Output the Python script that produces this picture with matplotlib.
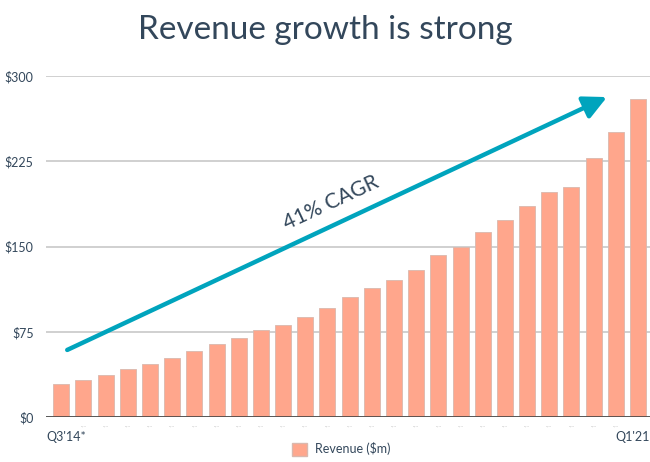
import matplotlib.pyplot as plt
from matplotlib.patches import Patch

plt.rcParams['font.family'] = ['Lato', 'DejaVu Sans']

# quarterly revenue, $m (Q3'14 .. Q1'21)
quarters = ["Q3'14*", "Q4'14",
            "Q1'15", "Q2'15", "Q3'15", "Q4'15",
            "Q1'16", "Q2'16", "Q3'16", "Q4'16",
            "Q1'17", "Q2'17", "Q3'17", "Q4'17",
            "Q1'18", "Q2'18", "Q3'18", "Q4'18",
            "Q1'19", "Q2'19", "Q3'19", "Q4'19",
            "Q1'20", "Q2'20", "Q3'20", "Q4'20",
            "Q1'21"]
revenue = [29, 32.5, 37, 42, 46.5, 52, 58, 64, 69.5, 76.5, 81, 88, 96,
           105.5, 113.5, 120.5, 129, 142.5, 150, 163, 173, 185.5, 198,
           202, 228, 250.5, 280]
yticks = [0, 75, 150, 225, 300]

dark = '#33475b'
bar_col = '#ffa68c'

fig = plt.figure(figsize=(6.5, 4.62), dpi=100)
ax = fig.add_axes([0.071, 0.0974, 0.929, 0.738])

x = list(range(len(revenue)))
ax.bar(x, revenue, width=0.72, color=bar_col, edgecolor='#d9b8ae',
       linewidth=0.6, zorder=3)

ax.set_xlim(-0.68, 26.54)
ax.set_ylim(0, 300)
ax.set_yticks(yticks)
ax.set_yticklabels(['$%d' % v for v in yticks], color=dark, fontsize=9)
ax.yaxis.grid(True, color='#c8c8c8', linewidth=1.2, zorder=0)
for s in ax.spines.values():
    s.set_visible(False)
ax.axhline(0, color='#444444', linewidth=1.2, zorder=4)
ax.tick_params(axis='y', length=0, pad=9)
ax.tick_params(axis='x', length=0, pad=6)
ax.set_xticks(x)
ax.set_xticklabels([''] + quarters[1:-1] + [''], fontsize=1.5,
                   color='#b0b0b0')

# end labels
ax.text(0.0, -0.06, quarters[0], transform=ax.transAxes, ha='left',
        va='center', fontsize=9, color=dark)
ax.text(1.0, -0.06, quarters[-1], transform=ax.transAxes, ha='right',
        va='center', fontsize=9, color=dark)

# CAGR arrow
ax.annotate('', xy=(24.6, 281.5), xytext=(0.27, 59),
            arrowprops=dict(arrowstyle='-|>,head_length=1.4,head_width=0.7',
                            color='#00a4bd', linewidth=3.2,
                            shrinkA=0, shrinkB=0),
            zorder=5)
ax.text(12.15, 188, '41% CAGR', rotation=25, ha='center', va='center',
        fontsize=15, color=dark, zorder=6)

fig.text(0.5, 0.935, 'Revenue growth is strong', ha='center',
         va='center', fontsize=24, color=dark)

fig.legend(handles=[Patch(facecolor=bar_col, edgecolor='#d9b8ae')],
           labels=['Revenue ($m)'], loc='center', bbox_to_anchor=(0.525, 0.028),
           frameon=False, fontsize=9, labelcolor=dark, handlelength=1.2,
           handleheight=1.2, handletextpad=0.6)

fig.savefig('out.png', dpi=100)
